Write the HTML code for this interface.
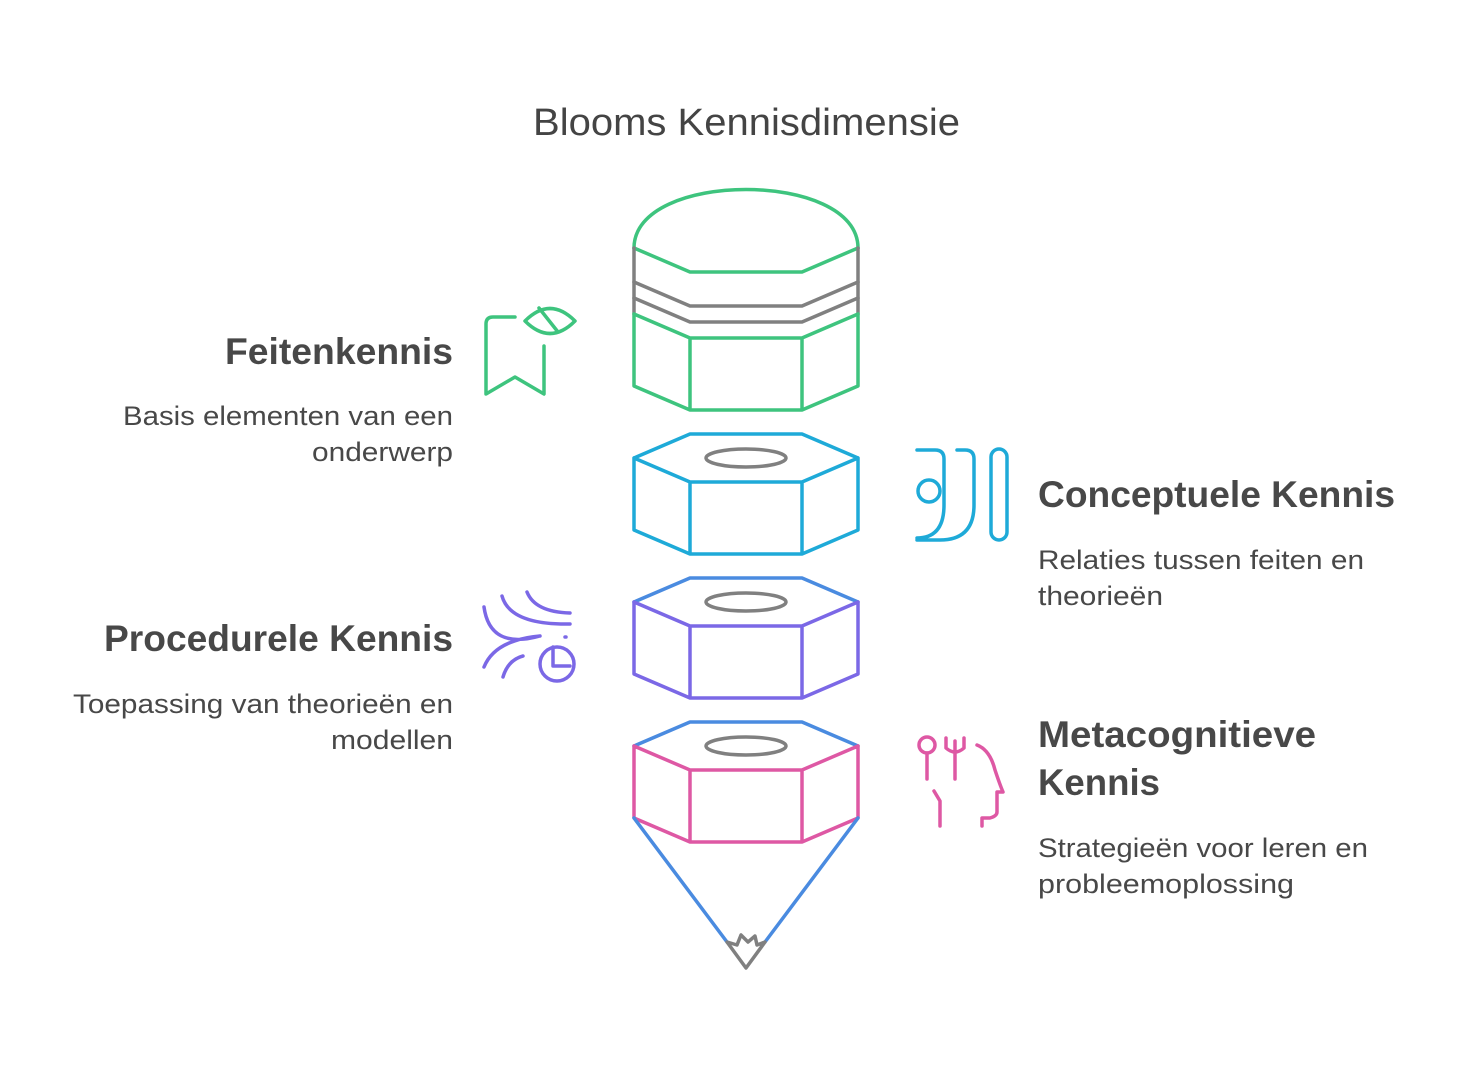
<!DOCTYPE html>
<html><head><meta charset="utf-8"><style>
body{margin:0;background:#fff;width:1468px;height:1069px;overflow:hidden;font-family:"Liberation Sans",sans-serif;}
</style></head><body>
<svg width="1468" height="1069" viewBox="0 0 1468 1069" xmlns="http://www.w3.org/2000/svg" font-family="Liberation Sans, sans-serif">
<text x="533" y="135" font-size="38" fill="#444" textLength="427" lengthAdjust="spacingAndGlyphs">Blooms Kennisdimensie</text>
<g fill="none" stroke-width="3.5" stroke-linejoin="round" stroke-linecap="round">
<path d="M634,248 C634,170 858,170 858,248" stroke="#3ec47e"/>
<path d="M634,248 L690,272 L802,272 L858,248" stroke="#3ec47e"/>
<path d="M634,248 V314 M858,248 V314" stroke="#808080"/>
<path d="M634,282 L690,306 L802,306 L858,282 M634,298 L690,322 L802,322 L858,298" stroke="#808080"/>
<path d="M634,314 L690,338 L802,338 L858,314 M634,314 V386 L690,410 L802,410 L858,386 V314 M690,338 V410 M802,338 V410" stroke="#3ec47e"/>
<path d="M634,458 L690,434 L802,434 L858,458 M634,458 L690,482 L802,482 L858,458 M634,458 V530 L690,554 L802,554 L858,530 V458 M690,482 V554 M802,482 V554" stroke="#1eaad8"/>
<ellipse cx="746" cy="458" rx="40" ry="9" stroke="#808080"/>
<path d="M634,602 L690,578 L802,578 L858,602" stroke="#4a8be0"/>
<path d="M634,602 L690,626 L802,626 L858,602 M634,602 V674 L690,698 L802,698 L858,674 V602 M690,626 V698 M802,626 V698" stroke="#7b68e6"/>
<ellipse cx="746" cy="602" rx="40" ry="9" stroke="#808080"/>
<path d="M634,746 L690,722 L802,722 L858,746" stroke="#4a8be0"/>
<path d="M634,746 L690,770 L802,770 L858,746 M634,746 V818 L690,842 L802,842 L858,818 V746 M690,770 V842 M802,770 V842" stroke="#de58a4"/>
<ellipse cx="746" cy="746" rx="40" ry="9" stroke="#808080"/>
<path d="M634,818 L727,942 M858,818 L765,942" stroke="#4a8be0"/>
<path d="M727,942 L746,968 L765,942 L757,945 L755,936 L748,942 L741,935 L737,945 Z" stroke="#808080"/>
<path d="M515,317 H493 Q486,317 486,324 V394 L515,377 L544,394 V346" stroke="#3ec47e"/>
<path d="M525,321 Q550,296 575,321 Q550,346 525,321 Z M539,308 L558,332" stroke="#3ec47e"/>
<path d="M917,450 H935 Q944,450 944,459 V505 Q944,538 917,538 M957,450 H965 Q974,450 974,459 V505 Q974,540 940,540 H917" stroke="#1eaad8"/>
<circle cx="929" cy="491" r="11" stroke="#1eaad8"/>
<rect x="991" y="449" width="16" height="91" rx="8" stroke="#1eaad8"/>
<path d="M484,607 Q490,650 540,636 M502,596 Q510,625 570,624 M527,592 Q535,612 570,613 M484,667 Q495,640 540,636 M503,677 Q508,660 523,656 M565,637 h1" stroke="#7b68e6"/>
<circle cx="557" cy="664" r="17" stroke="#7b68e6"/><path d="M553,647 V666 H570" stroke="#7b68e6"/>
<circle cx="927" cy="745" r="8" stroke="#de58a4"/>
<path d="M927,753 V779 M955,741 V779 M946,738 V748 Q955,756 964,748 V738 M977,745 Q990,750 995,770 Q1000,785 1003,792 H997 V812 Q997,816 990,818 H982 V826 M934,791 L940,801 V826" stroke="#de58a4"/>
</g>
<g fill="#484848" lengthAdjust="spacingAndGlyphs">
<text x="225" y="364" font-size="37" font-weight="bold" textLength="228" lengthAdjust="spacingAndGlyphs">Feitenkennis</text>
<text x="123" y="425" font-size="27" textLength="330" lengthAdjust="spacingAndGlyphs">Basis elementen van een</text>
<text x="312" y="461" font-size="27" textLength="141" lengthAdjust="spacingAndGlyphs">onderwerp</text>
<text x="104" y="651" font-size="37" font-weight="bold" textLength="349" lengthAdjust="spacingAndGlyphs">Procedurele Kennis</text>
<text x="73" y="713" font-size="27" textLength="380" lengthAdjust="spacingAndGlyphs">Toepassing van theorieën en</text>
<text x="331" y="749" font-size="27" textLength="122" lengthAdjust="spacingAndGlyphs">modellen</text>
<text x="1038" y="507" font-size="37" font-weight="bold" textLength="357" lengthAdjust="spacingAndGlyphs">Conceptuele Kennis</text>
<text x="1038" y="569" font-size="27" textLength="326" lengthAdjust="spacingAndGlyphs">Relaties tussen feiten en</text>
<text x="1038" y="605" font-size="27" textLength="125" lengthAdjust="spacingAndGlyphs">theorieën</text>
<text x="1038" y="747" font-size="37" font-weight="bold" textLength="278" lengthAdjust="spacingAndGlyphs">Metacognitieve</text>
<text x="1038" y="795" font-size="37" font-weight="bold" textLength="122" lengthAdjust="spacingAndGlyphs">Kennis</text>
<text x="1038" y="857" font-size="27" textLength="330" lengthAdjust="spacingAndGlyphs">Strategieën voor leren en</text>
<text x="1038" y="893" font-size="27" textLength="256" lengthAdjust="spacingAndGlyphs">probleemoplossing</text>
</g>
</svg>
</body></html>
